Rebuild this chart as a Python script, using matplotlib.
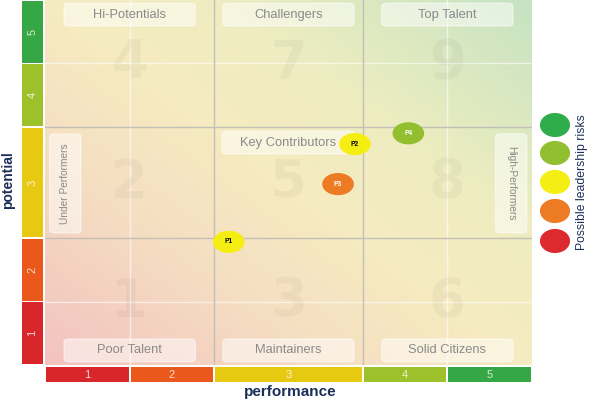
import numpy as np
import matplotlib
matplotlib.use("Agg")
import matplotlib.pyplot as plt
from matplotlib.colors import LinearSegmentedColormap
from matplotlib.patches import FancyBboxPatch
from matplotlib.path import Path

plt.rcParams['font.family'] = ['Liberation Sans', 'DejaVu Sans']

# ---- data ----
levels = [1, 2, 3, 4, 5]
level_widths = [1, 1, 1.75, 1, 1]          # band widths on both axes
level_colors = ["#d9262b", "#eb581c", "#e8c912", "#9cc12a", "#35a845"]

box_numbers = [[1, 3, 6], [2, 5, 8], [4, 7, 9]]   # rows bottom->top, cols left->right
box_top = ["Hi-Potentials", "Challengers", "Top Talent"]
box_bottom = ["Poor Talent", "Maintainers", "Solid Citizens"]
box_middle = "Key Contributors"
box_left = "Under Performers"
box_right = "High-Performers"

people = ["P1", "P2", "P3", "P4"]
performance = [2.17, 3.66, 3.46, 4.29]
potential = [1.94, 3.48, 2.85, 3.65]
risk = [3, 3, 2, 4]   # 1 = highest risk (red) ... 5 = lowest (green)
risk_colors = ["#dc2a30", "#ed7b24", "#f5ee12", "#92bf30", "#2fad4a"]
label_colors = ["white", "white", "black", "white", "white"]

edges = np.concatenate([[0], np.cumsum(level_widths)])
total = edges[-1]
cell_edges = [edges[0], edges[2], edges[3], edges[5]]
cell_centers = [(cell_edges[i] + cell_edges[i + 1]) / 2 for i in range(3)]

fig = plt.figure(figsize=(6, 4), dpi=100)
W, H = 600, 400

def px_axes(x0, y0, x1, y1):
    return fig.add_axes([x0 / W, 1 - y1 / H, (x1 - x0) / W, (y1 - y0) / H])

ax = px_axes(45, 0, 532, 365)
ax.set_xlim(0, total)
ax.set_ylim(0, total)
ax.axis('off')

# background gradient (diagonal red -> yellow -> green)
cmap = LinearSegmentedColormap.from_list(
    "bg", [(0, "#f3c2c0"), (0.3, "#f5dfc2"), (0.5, "#f6ebc0"),
           (0.68, "#eeedc0"), (1, "#c6e3c2")])
gx, gy = np.meshgrid(np.linspace(0, 1, 300), np.linspace(0, 1, 300))
ax.imshow((gx + gy) / 2, extent=[0, total, 0, total], origin='lower',
          cmap=cmap, vmin=0, vmax=1, aspect='auto', zorder=0)

# white minor lines and grey grid lines
for e in [edges[1], edges[4]]:
    ax.axvline(e, color="white", lw=1.0, alpha=0.6, zorder=1)
    ax.axhline(e, color="white", lw=1.0, alpha=0.6, zorder=1)
for e in [edges[2], edges[3]]:
    ax.axvline(e, color="#c2bfb6", lw=1.0, zorder=1)
    ax.axhline(e, color="#c2bfb6", lw=1.0, zorder=1)

# big faint numbers
for r in range(3):
    for c in range(3):
        ax.text(cell_centers[c], cell_centers[r], str(box_numbers[r][c]),
                ha='center', va='center', fontsize=38, fontweight='bold',
                color=(0, 0, 0, 0.035), family='DejaVu Sans', zorder=2)

def label_box(xc, yc, w, h, text, rot=0, fs=9.3):
    p = FancyBboxPatch((xc - w / 2, yc - h / 2), w, h,
                       boxstyle="round,pad=0,rounding_size=0.06",
                       fc=(1, 1, 1, 0.5), ec=(1, 1, 1, 0.6), lw=0.8, zorder=3,
                       mutation_aspect=0.75)
    ax.add_patch(p)
    ax.text(xc, yc, text, ha='center', va='center', rotation=rot,
            fontsize=fs, color="#8a8a8a", zorder=4)

bw, bh = 1.55, 0.36
for c in range(3):
    label_box(cell_centers[c], total - 0.05 - bh / 2, bw, bh, box_top[c])
    label_box(cell_centers[c], 0.05 + bh / 2, bw, bh, box_bottom[c])
label_box(2.875, 3.505, 1.57, bh, box_middle)
label_box(0.24, 2.86, 0.37, 1.56, box_left, rot=90, fs=7.3)
label_box(5.505, 2.86, 0.37, 1.56, box_right, rot=270, fs=7.3)

# people markers (ellipses)
t = np.linspace(0, 2 * np.pi, 60)
ell = Path(np.column_stack([np.cos(t), 0.7 * np.sin(t)]), closed=True)
ax.scatter(performance, potential, s=520, marker=ell,
           c=[risk_colors[r - 1] for r in risk], zorder=5, linewidths=0)
for name, x, y, r in zip(people, performance, potential, risk):
    ax.text(x, y, name, ha='center', va='center', fontsize=4.8,
            fontweight='bold', color=label_colors[r - 1], zorder=6)

# bottom performance bar
axb = px_axes(45, 367, 532, 382)
axb.set_xlim(0, total)
axb.set_ylim(0, 1)
axb.axis('off')
gap = 0.025
axb.bar(edges[:-1] + gap / 2, 1, width=np.array(level_widths) - gap,
        align='edge', color=level_colors)
for lv, e0, e1 in zip(levels, edges[:-1], edges[1:]):
    axb.text((e0 + e1) / 2, 0.5, str(lv), ha='center', va='center',
             fontsize=8, color=(1, 1, 1, 0.8))

# left potential bar
axl = px_axes(22, 0, 43, 365)
axl.set_ylim(0, total)
axl.set_xlim(0, 1)
axl.axis('off')
axl.barh(edges[:-1] + gap / 2, 1, height=np.array(level_widths) - gap,
         align='edge', color=level_colors)
for lv, e0, e1 in zip(levels, edges[:-1], edges[1:]):
    axl.text(0.5, (e0 + e1) / 2, str(lv), ha='center', va='center',
             rotation=90, fontsize=8, color=(1, 1, 1, 0.8))

# axis titles
fig.text(290 / W, 1 - 392 / H, "performance", ha='center', va='center',
         fontsize=11, fontweight='bold', color="#1b2f5a")
fig.text(8 / W, 1 - 180 / H, "potential", ha='center', va='center',
         rotation=90, fontsize=10, fontweight='bold', color="#1b2f5a")

# legend of risk colours
axg = px_axes(535, 0, 600, 400)
axg.set_xlim(535, 600)
axg.set_ylim(400, 0)
axg.axis('off')
leg_y = [125, 153, 182, 211, 241]
axg.scatter([555] * 5, leg_y, s=470, marker=Path(np.column_stack([np.cos(t), 0.8 * np.sin(t)]), closed=True),
            c=risk_colors[::-1], linewidths=0)
axg.text(582, 182, "Possible leadership risks", rotation=90, ha='center',
         va='center', fontsize=8.8, color="#1b2f5a")

fig.savefig("out.png", dpi=100)
